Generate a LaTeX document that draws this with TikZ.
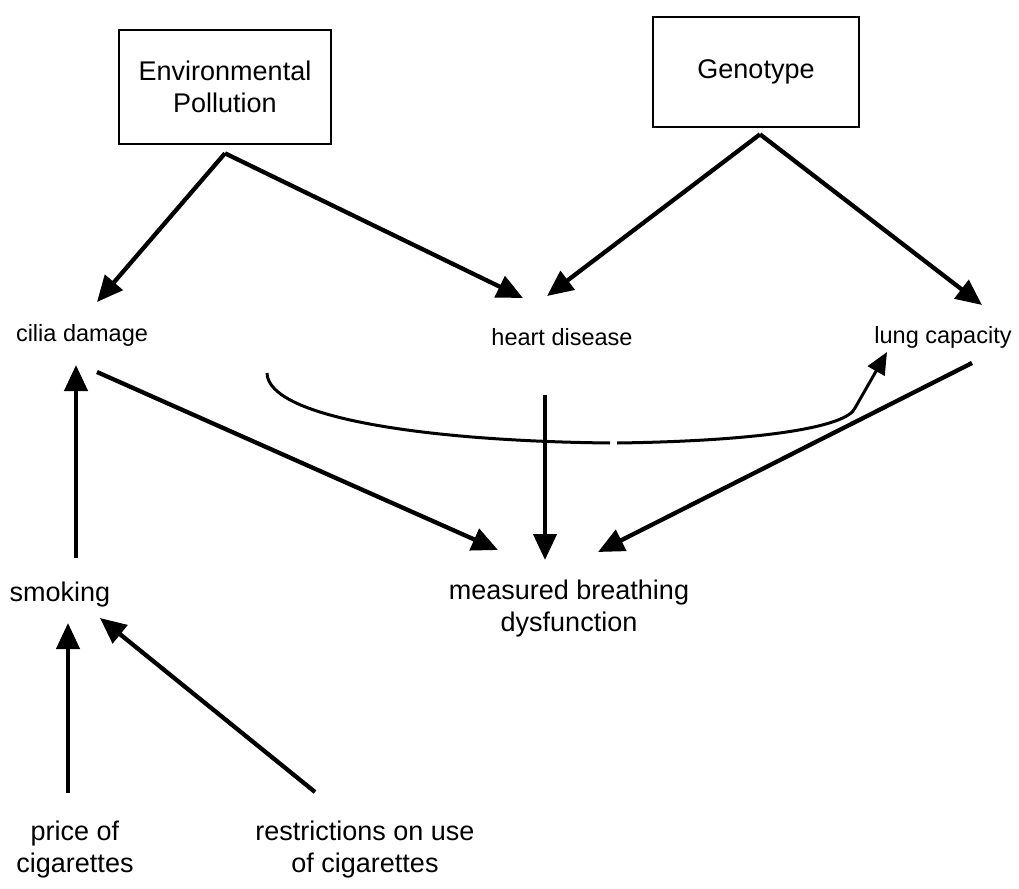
\documentclass[tikz,border=0pt]{standalone}
\usepackage{fontspec}
\setmainfont{Liberation Sans}
\usepackage{tikz}
\usetikzlibrary{calc,arrows.meta}
\newcommand{\arrowwidth}{4.3pt}
\newcommand{\bigfont}{\fontsize{27}{32}\selectfont}
\newcommand{\smallfont}{\fontsize{23.5}{28}\selectfont}

\begin{document}
\begin{tikzpicture}[x=1pt,y=-1pt,
  box/.style={draw,line width=2.6pt,inner sep=0pt,align=center,font=\bigfont},
  label/.style={inner sep=0pt,align=center,font=\bigfont},
  slabel/.style={inner sep=0pt,align=center,font=\smallfont},
  arr/.style={line width=\arrowwidth,-{Triangle[length=26pt,width=23pt]}}]
\useasboundingbox (0,0) rectangle (1019,888);
\node[box,minimum width=212,minimum height=114] (env) at (225,87) {Environmental\\Pollution};
\node[box,minimum width=206,minimum height=110] (geno) at (756,72) {Genotype};
\node[slabel] (cilia) at (82,335) {cilia damage};
\node[slabel] (heart) at (562,337) {heart disease};
\node[slabel] (lung) at (943,337) {lung capacity};
\node[label] (smoking) at (60,595) {smoking};
\node[label] (measured) at (569,609) {measured breathing\\dysfunction};
\node[label] (price) at (75,850) {price of\\cigarettes};
\node[label] (restr) at (365,850) {restrictions on use\\of cigarettes};
\coordinate (envfoot) at ($(env.south)+(0,8)$);
\coordinate (genofoot) at ($(geno.south)+(4,6)$);
% from the two boxes
\draw[arr] (envfoot) -- ($(cilia)+(15,-33)$);
\draw[arr] (envfoot) -- ($(heart)+(-39,-39)$);
\draw[arr] (genofoot) -- ($(heart)+(-15,-41)$);
\draw[arr] (genofoot) -- ($(lung)+(39,-32)$);
% into measured breathing dysfunction
\draw[arr] ($(cilia)+(15,37)$) -- ($(measured)+(-71,-59)$);
\draw[arr] ($(heart)+(-17,58)$) -- ($(measured)+(-24,-49)$);
\draw[arr] ($(lung)+(29,26)$) -- ($(measured)+(29,-57)$);
% smoking and its causes
\draw[arr] ($(smoking)+(16,-37)$) -- ($(cilia)+(-6,30)$);
\draw[arr] ($(price)+(-7,-57)$) -- ($(smoking)+(8,28)$);
\draw[arr] ($(restr)+(-50,-58)$) -- ($(smoking)+(40,23)$);
% heart disease to lung capacity
\draw[line width=3pt] ($(heart)+(-295,36)$) .. controls ($(heart)+(-294,80)$) and ($(heart)+(-140,104)$) .. ($(heart)+(48,106)$);
\draw[line width=3pt,-{Triangle[length=22pt,width=19pt]}] ($(heart)+(55,106)$) .. controls ($(heart)+(200,104)$) and ($(lung)+(-96,90)$) .. ($(lung)+(-88,71)$) -- ($(lung)+(-56,15)$);
\end{tikzpicture}
\end{document}
